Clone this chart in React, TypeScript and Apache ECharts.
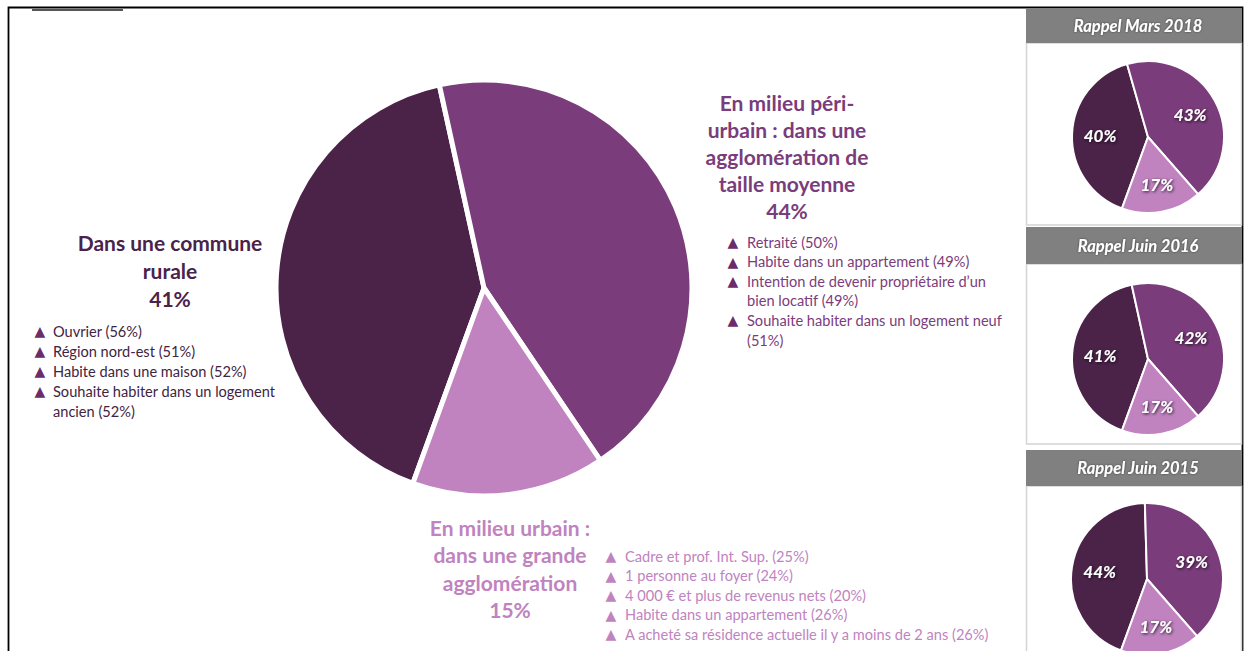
import React, { useEffect, useRef } from "react";
import * as echarts from "echarts";

// ---- Data ----
const categories = ["Dans une commune rurale", "En milieu péri-urbain", "En milieu urbain"];
const current = [41, 44, 15];
const mars2018 = [40, 43, 17];
const juin2016 = [41, 42, 17];
const juin2015 = [44, 39, 17];
const rappelTitles = ["Rappel Mars 2018", "Rappel Juin 2016", "Rappel Juin 2015"];

const ruralTitle = ["Dans une commune", "rurale"];
const periTitle = ["En milieu péri-", "urbain : dans une", "agglomération de", "taille moyenne"];
const urbainTitle = ["En milieu urbain :", "dans une grande", "agglomération"];

const ruralBullets = [
  "Ouvrier (56%)",
  "Région nord-est (51%)",
  "Habite dans une maison (52%)",
  "Souhaite habiter dans un logement\nancien (52%)",
];
const periBullets = [
  "Retraité (50%)",
  "Habite dans un appartement (49%)",
  "Intention de devenir propriétaire d’un\nbien locatif (49%)",
  "Souhaite habiter dans un logement neuf\n(51%)",
];
const urbainBullets = [
  "Cadre et prof. Int. Sup. (25%)",
  "1 personne au foyer (24%)",
  "4 000 € et plus de revenus nets (20%)",
  "Habite dans un appartement (26%)",
  "A acheté sa résidence actuelle il y a moins de 2 ans (26%)",
];

// ---- Styles ----
const COLORS = ["#4B2349", "#7B3C7B", "#C083C0"];
const FONT = "Lato, 'Open Sans', sans-serif";

function bulletBlock(
  items: string[],
  triX: number,
  textX: number,
  firstY: number,
  lh: number,
  triColor: string,
  textColor: string
) {
  const els: any[] = [];
  let line = 0;
  items.forEach((it) => {
    const y = firstY + line * lh;
    els.push({
      type: "text",
      silent: true,
      style: {
        text: "▲",
        x: triX,
        y,
        fill: triColor,
        fontSize: 14,
        fontFamily: "'DejaVu Sans', sans-serif",
        align: "center",
        verticalAlign: "middle",
      },
    });
    els.push({
      type: "text",
      silent: true,
      style: {
        text: it,
        x: textX,
        y: y - lh / 2,
        fill: textColor,
        fontSize: 14.6,
        fontFamily: FONT,
        align: "left",
        verticalAlign: "top",
        lineHeight: lh,
      },
    });
    line += it.split("\n").length;
  });
  return els;
}

function titleBlock(lines: string[], pct: number, cx: number, firstY: number, lh: number, color: string) {
  return {
    type: "text",
    silent: true,
    style: {
      text: [...lines, pct + "%"].join("\n"),
      x: cx,
      y: firstY - lh / 2,
      fill: color,
      fontSize: 21,
      fontWeight: "bold",
      fontFamily: FONT,
      align: "center",
      verticalAlign: "top",
      lineHeight: lh,
    },
  };
}

function makeData(vals: number[]) {
  return vals.map((v, i) => ({ name: categories[i], value: v, itemStyle: { color: COLORS[i] } }));
}

function smallPies(vals: number[], center: number[]) {
  return [
    {
      type: "pie",
      silent: true,
      center,
      radius: 76,
      startAngle: 250,
      clockwise: true,
      avoidLabelOverlap: false,
      itemStyle: { borderColor: "#fff", borderWidth: 2 },
      label: { show: false },
      labelLine: { show: false },
      data: makeData(vals),
    },
    {
      type: "pie",
      silent: true,
      center,
      radius: [14, 76],
      startAngle: 250,
      clockwise: true,
      avoidLabelOverlap: false,
      itemStyle: { color: "rgba(0,0,0,0)", borderWidth: 0 },
      label: {
        show: true,
        position: "inside",
        formatter: "{c}%",
        color: "#fff",
        fontSize: 17,
        fontWeight: "bold",
        fontStyle: "italic",
        fontFamily: FONT,
        textShadowColor: "rgba(20,10,20,0.9)",
        textShadowBlur: 3,
        textShadowOffsetX: 1,
        textShadowOffsetY: 1,
      },
      labelLine: { show: false },
      data: vals.map((v, i) => ({ name: categories[i], value: v, itemStyle: { color: "rgba(0,0,0,0)" } })),
    },
  ];
}

export default function App() {
  const ref = useRef<HTMLDivElement>(null);
  useEffect(() => {
    document.body.style.margin = "0";
    const chart = echarts.init(ref.current!, null, { renderer: "svg" });

    const headerYs = [8, 227, 450];
    const headerHs = [35, 37, 36];
    const panelRects = [
      [43, 225],
      [264, 444],
      [486, 700],
    ];

    const graphic: any[] = [
      {
        type: "rect",
        silent: true,
        shape: { x: 8.5, y: 7.5, width: 1234, height: 700 },
        style: { fill: "none", stroke: "#000", lineWidth: 1.8 },
      },
      {
        type: "line",
        silent: true,
        shape: { x1: 32, y1: 10, x2: 123, y2: 10 },
        style: { stroke: "#555", lineWidth: 2 },
      },
    ];
    rappelTitles.forEach((t, i) => {
      graphic.push({
        type: "rect",
        silent: true,
        shape: { x: 1026.5, y: panelRects[i][0], width: 215, height: panelRects[i][1] - panelRects[i][0] },
        style: { fill: "#fff", stroke: "#D4D4D4", lineWidth: 1.5 },
      });
      graphic.push({
        type: "rect",
        silent: true,
        shape: { x: 1026, y: headerYs[i], width: 216, height: headerHs[i] },
        style: { fill: "#808080" },
      });
      graphic.push({
        type: "text",
        silent: true,
        style: {
          text: t,
          x: 1138,
          y: headerYs[i] + headerHs[i] / 2,
          fill: "#fff",
          fontSize: 16.5,
          fontWeight: "bold",
          fontStyle: "italic",
          fontFamily: FONT,
          align: "center",
          verticalAlign: "middle",
          textShadowColor: "rgba(0,0,0,0.5)",
          textShadowBlur: 2,
        },
      });
    });

    graphic.push(titleBlock(ruralTitle, current[0], 170, 242, 28, COLORS[0]));
    graphic.push(titleBlock(periTitle, current[1], 787, 102, 27.2, COLORS[1]));
    graphic.push(titleBlock(urbainTitle, current[2], 510, 527, 27.5, COLORS[2]));
    graphic.push(...bulletBlock(ruralBullets, 40, 53, 331, 20, "#6A2C6A", "#3F2443"));
    graphic.push(...bulletBlock(periBullets, 733, 747, 242, 19.6, "#6A2C6A", COLORS[1]));
    graphic.push(...bulletBlock(urbainBullets, 611, 625, 556, 19.5, COLORS[2], COLORS[2]));

    const option: any = {
      animation: false,
      graphic,
      series: [
        {
          type: "pie",
          silent: true,
          center: [484, 288],
          radius: 208,
          startAngle: 250,
          clockwise: true,
          avoidLabelOverlap: false,
          itemStyle: { borderColor: "#fff", borderWidth: 5 },
          label: { show: false },
          labelLine: { show: false },
          data: makeData(current),
        },
        ...smallPies(mars2018, [1148, 137]),
        ...smallPies(juin2016, [1148, 359]),
        ...smallPies(juin2015, [1147, 579]),
      ],
    };
    chart.setOption(option);
    return () => chart.dispose();
  }, []);
  return <div ref={ref} style={{ width: 1244, height: 651 }} />;
}
